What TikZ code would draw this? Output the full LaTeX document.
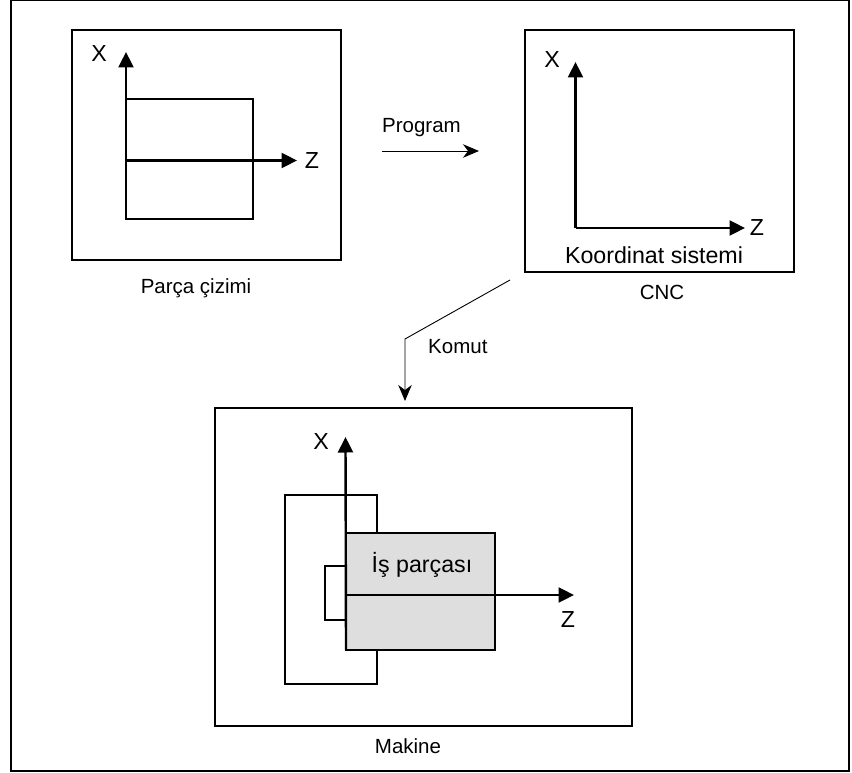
\documentclass[tikz,border=0pt]{standalone}
\usepackage{fontspec}
\setmainfont{Liberation Sans}
\usetikzlibrary{arrows.meta,calc}
\tikzset{
  boxs/.style={draw=black,line width=2.4pt,line join=miter,inner sep=0pt,outer sep=0pt},
  axis/.style={draw=black,line width=2.4pt,-{Triangle[length=15.5pt,width=15pt]}},
  flow/.style={draw=black,line width=0.9pt,-{Stealth[length=16pt,width=13.5pt,inset=5pt]}},
  bigt/.style={font=\fontsize{23.2}{23.2}\selectfont,anchor=base,inner sep=0pt},
  smallt/.style={font=\fontsize{20.5}{20.5}\selectfont,anchor=base,inner sep=0pt},
}
\begin{document}
\begin{tikzpicture}[x=1pt,y=-1pt]
\useasboundingbox (0,0) rectangle (852,773);
\node[draw=black,line width=1.6pt,inner sep=0pt,minimum width=838pt,minimum height=771pt] (frame) at (430,385.5) {};
% Parca cizimi
\node[boxs,minimum width=269pt,minimum height=230pt] (b1) at (206.5,145) {};
\node[boxs,minimum width=127pt,minimum height=120pt] (part1) at (189.5,159) {};
\coordinate (o1) at (126,160.5); \coordinate (x1) at (126,52); \coordinate (z1) at (297,160.5);
\draw[axis] (part1.south west) -- (x1);
\draw[axis] (o1) -- (z1);
\node[bigt] (lx1) at (99,62) {X};
\node[bigt] (lz1) at (312,168) {Z};
\node[smallt] (cap1) at (196,293) {Parça çizimi};
% Program arrow
\coordinate (p0) at (382,151); \coordinate (p1) at (479,151);
\draw[flow] (p0) -- (p1);
\node[smallt,anchor=base west] (prog) at (382,132.5) {Program};
% CNC
\node[boxs,minimum width=269pt,minimum height=242pt] (b2) at (659.5,151) {};
\coordinate (o2) at (575.5,228); \coordinate (x2) at (575.5,62); \coordinate (z2) at (745,228);
\draw[axis] (o2) -- (x2);
\draw[axis] (o2) -- (z2);
\node[bigt] (lx2) at (552,68) {X};
\node[bigt] (lz2) at (757,235) {Z};
\node[bigt] (kor) at (654,263) {Koordinat sistemi};
\node[smallt] (cap2) at (662,299) {CNC};
% Komut arrow
\coordinate (k0) at (510,280); \coordinate (k1) at (405,339); \coordinate (k2) at (405,401);
\draw[flow] (k0) -- (k1) -- (k2);
\node[smallt,anchor=base west] (kom) at (428,353) {Komut};
% Makine
\node[boxs,minimum width=417pt,minimum height=318pt] (b3) at (423.5,567) {};
\node[boxs,minimum width=92pt,minimum height=189pt] (chuck) at (331,589.5) {};
\node[boxs,minimum width=21pt,minimum height=54pt] (jaw) at (335.5,593) {};
\node[boxs,fill=black!13,minimum width=149pt,minimum height=117pt] (work) at (420.5,591.5) {};
\coordinate (o3) at (345.5,595); \coordinate (x3) at (345.5,437); \coordinate (z3) at (574,595);
\draw[axis] (work.south west) -- (x3);
\draw[axis] (o3) -- (z3);
\node[bigt] (lx3) at (321,449) {X};
\node[bigt] (lz3) at (568,627) {Z};
\node[bigt] (is) at (422,572) {İş parçası};
\node[smallt] (cap3) at (408,753) {Makine};
\end{tikzpicture}
\end{document}
